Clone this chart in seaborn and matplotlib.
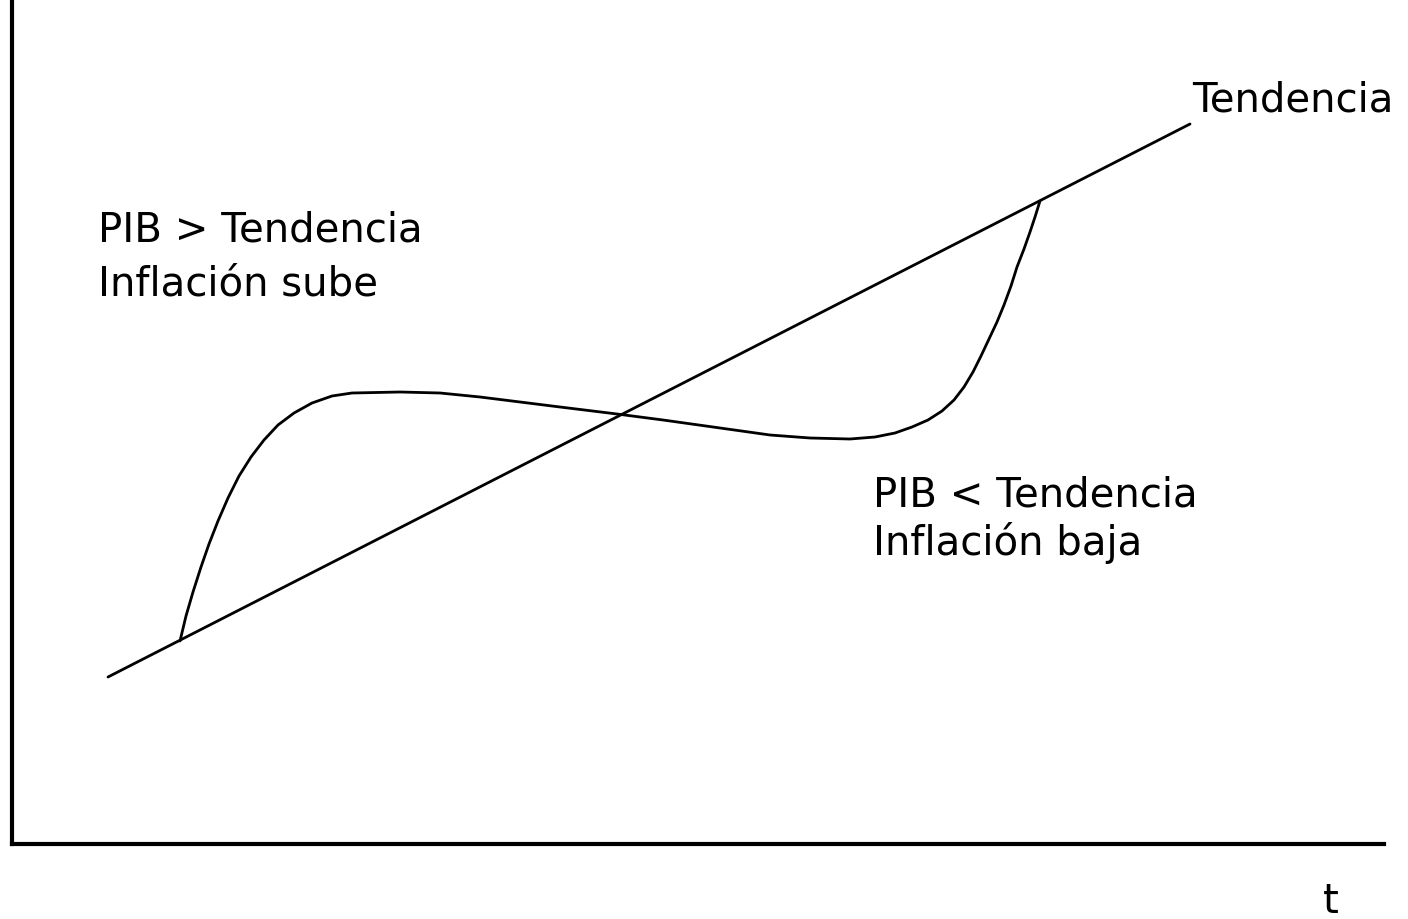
import matplotlib
matplotlib.use("Agg")
import matplotlib.pyplot as plt
import seaborn as sns
import pandas as pd

# trend line (t, level)
trend_t = [96, 1178]
trend_y = [167, 720]

# GDP path around the trend
pib_t = [168, 174, 181, 189, 197, 206, 216, 227, 239, 252,
         266, 282, 300, 320, 340, 388, 428, 468, 508, 548,
         605, 651, 701, 758, 798, 838, 863, 883, 900, 916,
         930, 942, 952, 961, 969, 977, 985, 992, 999, 1005,
         1012, 1018, 1023, 1028]
pib_y = [203, 228, 252, 277, 300, 323, 346, 368, 387, 404,
         419, 431, 441, 448, 451, 452, 451, 447, 442, 437,
         430, 424, 417, 409, 406, 405, 407, 411, 417, 424,
         433, 444, 457, 472, 488, 505, 522, 539, 558, 577,
         595, 612, 627, 643]

sns.set_style("white")
plt.rcParams['font.family'] = ['DejaVu Sans']
plt.rcParams['text.color'] = 'black'

fig = plt.figure(figsize=(14.08, 9.2), dpi=100)
ax = fig.add_axes([12/1408, 75/920, 1372/1408, 845/920])

trend = pd.DataFrame({"t": trend_t, "y": trend_y})
pib = pd.DataFrame({"t": pib_t, "y": pib_y})
sns.lineplot(data=trend, x="t", y="y", color="black", linewidth=2, ax=ax)
sns.lineplot(data=pib, x="t", y="y", color="black", linewidth=2, sort=False, ax=ax)

ax.set_xlim(0, 1372)
ax.set_ylim(0, 845)
ax.set_xticks([])
ax.set_yticks([])
ax.set_xlabel("")
ax.set_ylabel("")
for s in ["top", "right"]:
    ax.spines[s].set_visible(False)
for s in ["left", "bottom"]:
    ax.spines[s].set_color("black")
    ax.spines[s].set_linewidth(3)

fs = 29
ax.text(1180, 733, "Tendencia", fontsize=fs, va="baseline", ha="left", clip_on=False)
ax.text(86, 603, "PIB > Tendencia", fontsize=fs, va="baseline")
ax.text(86, 549, "Inflación sube", fontsize=fs, va="baseline")
ax.text(861, 338, "PIB < Tendencia", fontsize=fs, va="baseline")
ax.text(861, 290, "Inflación baja", fontsize=fs, va="baseline")
ax.text(1311, -68, "t", fontsize=fs, va="baseline", clip_on=False)

plt.savefig("out.png", dpi=100)
